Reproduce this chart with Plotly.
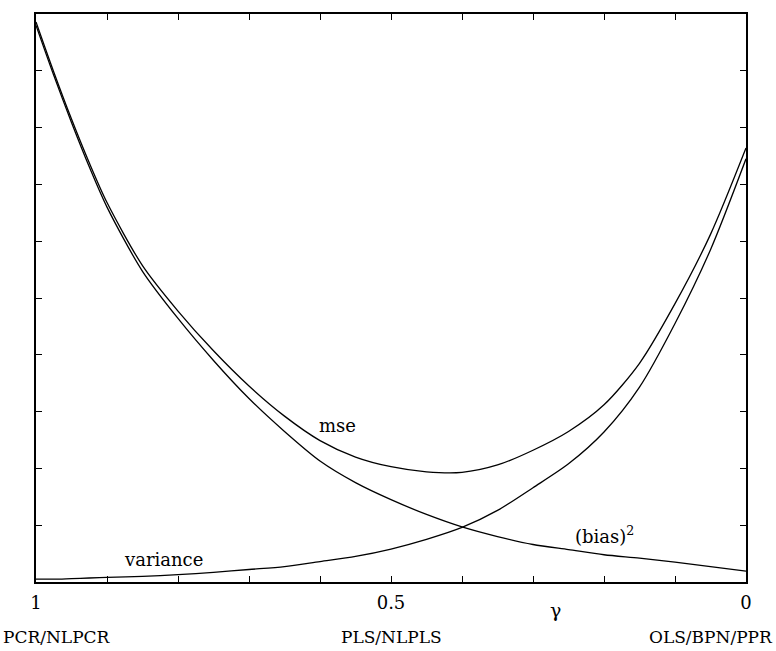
import plotly.graph_objects as go

gamma = [1.0, 0.975, 0.95, 0.925, 0.9, 0.85, 0.8, 0.75, 0.7, 0.65, 0.6, 0.55, 0.5,
         0.45, 0.4, 0.35, 0.3, 0.25, 0.2, 0.15, 0.1, 0.05, 0.0]
mse = [9.86, 8.98, 8.15, 7.38, 6.68, 5.57, 4.77, 4.07, 3.45, 2.92, 2.49, 2.2, 2.03,
       1.94, 1.93, 2.06, 2.32, 2.65, 3.12, 3.85, 4.9, 6.12, 7.64]
bias2 = [9.8, 8.92, 8.09, 7.31, 6.6, 5.47, 4.64, 3.9, 3.23, 2.65, 2.13, 1.75, 1.45,
         1.19, 0.97, 0.8, 0.66, 0.57, 0.48, 0.42, 0.35, 0.27, 0.19]
variance = [0.05, 0.05, 0.06, 0.07, 0.08, 0.1, 0.13, 0.17, 0.22, 0.27, 0.36, 0.45, 0.58,
            0.75, 0.96, 1.26, 1.66, 2.08, 2.64, 3.43, 4.55, 5.85, 7.45]

x_tickvals = [1.0, 0.9, 0.8, 0.7, 0.6, 0.5, 0.4, 0.3, 0.2, 0.1, 0.0]
x_ticktext = ["1", "", "", "", "", "0.5", "", "", "", "", "0"]
method_labels = ["PCR/NLPCR", "PLS/NLPLS", "OLS/BPN/PPR"]
curve_labels = ["mse", "(bias)<sup>2</sup>", "variance"]
curve_label_x = [0.576, 0.199, 0.821]
curve_label_y = [2.75, 0.82, 0.39]

font_family = "DejaVu Serif"
line = dict(color="black", width=1.3)

fig = go.Figure()
for ys in (mse, bias2, variance):
    fig.add_trace(go.Scatter(x=gamma, y=ys, mode="lines",
                             line=dict(line, shape="spline", smoothing=0.8),
                             hoverinfo="skip", showlegend=False))

for lx, ly, txt in zip(curve_label_x, curve_label_y, curve_labels):
    fig.add_annotation(x=lx, y=ly, text=txt, showarrow=False, xref="x", yref="y",
                       xanchor="center", yanchor="middle",
                       font=dict(size=18, color="black", family=font_family))

fig.add_annotation(x=0, y=-0.0965, text=method_labels[0], showarrow=False,
                   xref="paper", yref="paper", xanchor="left", yanchor="middle", xshift=-35,
                   font=dict(size=17, color="black", family=font_family))
fig.add_annotation(x=0.5, y=-0.0965, text=method_labels[1], showarrow=False,
                   xref="x", yref="paper", xanchor="center", yanchor="middle",
                   font=dict(size=17, color="black", family=font_family))
fig.add_annotation(x=1, y=-0.0965, text=method_labels[2], showarrow=False,
                   xref="paper", yref="paper", xanchor="right", yanchor="middle", xshift=29,
                   font=dict(size=17, color="black", family=font_family))

fig.add_annotation(x=0.269, y=-0.049, text="γ", showarrow=False, xref="x", yref="paper",
                   xanchor="center", yanchor="middle",
                   font=dict(size=19, color="black", family=font_family))

fig.update_layout(
    width=776, height=651,
    margin=dict(l=36, r=30, t=12, b=69),
    paper_bgcolor="white", plot_bgcolor="white",
    font=dict(family=font_family, size=18, color="black"),
    xaxis=dict(range=[1, 0], tickvals=x_tickvals, ticktext=x_ticktext,
               ticks="inside", ticklen=6, tickwidth=1.2, tickcolor="black",
               tickfont=dict(size=18, family=font_family, color="black"),
               showgrid=False, zeroline=False, showline=True, linecolor="black",
               linewidth=1.5, mirror="ticks", ticklabelstandoff=4),
    yaxis=dict(range=[0, 10], dtick=1, showticklabels=False,
               ticks="inside", ticklen=6, tickwidth=1.2, tickcolor="black",
               showgrid=False, zeroline=False, showline=True, linecolor="black",
               linewidth=1.5, mirror="ticks"),
)

fig.write_html("out.html")
